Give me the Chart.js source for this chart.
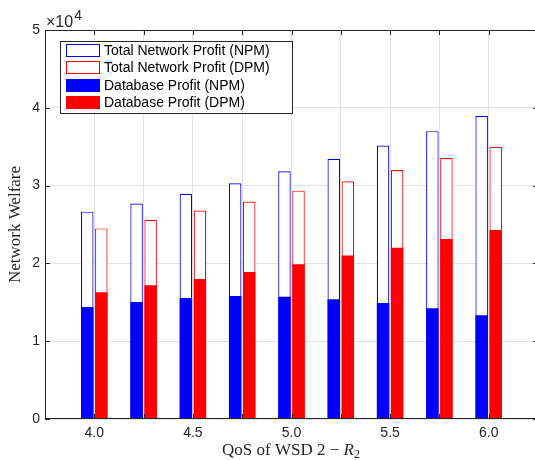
<!DOCTYPE html>
<html>
<head>
<meta charset="utf-8">
<script src="https://cdn.jsdelivr.net/npm/chart.js@4"></script>
<style>
  html, body { margin: 0; padding: 0; background: #fff; overflow: hidden; }
  #wrap { width: 535px; height: 460px; overflow: hidden; }
</style>
</head>
<body>
<div id="wrap"><canvas id="welfareChart" width="545" height="460"></canvas></div>
<script>
// QoS of WSD 2 (R2) values
const qos = [4.0, 4.25, 4.5, 4.75, 5.0, 5.25, 5.5, 5.75, 6.0];

// network welfare values
const totalNPM = [26650, 27700, 28950, 30300, 31850, 33450, 35150, 37000, 38950];
const totalDPM = [24500, 25600, 26800, 27950, 29350, 30550, 32000, 33550, 35000];
const dbNPM = [14400, 15050, 15550, 15800, 15700, 15400, 14900, 14250, 13350];
const dbDPM = [16300, 17200, 18000, 18900, 19900, 21000, 22000, 23150, 24300];

const yTicks = [0, 10000, 20000, 30000, 40000, 50000];

const axisColor = "#262626";
const sans = "'Liberation Sans', Arial, sans-serif";
const serif = "'Liberation Serif', 'Times New Roman', serif";

function points(values) {
  return values.map((v, i) => ({ x: qos[i], y: v }));
}

// frame, inward ticks, legend, titles
const decorations = {
  id: "decorations",
  afterDraw(chart) {
    const ctx = chart.ctx;
    const a = chart.chartArea;
    const xs = chart.scales.x;
    const ys = chart.scales.y;
    ctx.save();

    ctx.strokeStyle = axisColor;
    ctx.lineWidth = 1;
    ctx.strokeRect(a.left + 0.5, a.top + 0.5, a.right - a.left - 1, a.bottom - a.top - 1);

    ctx.beginPath();
    qos.forEach(q => {
      const px = Math.round(xs.getPixelForValue(q)) + 0.5;
      ctx.moveTo(px, a.bottom); ctx.lineTo(px, a.bottom - 5);
      ctx.moveTo(px, a.top); ctx.lineTo(px, a.top + 5);
    });
    yTicks.forEach(t => {
      const py = Math.round(ys.getPixelForValue(t)) + 0.5;
      ctx.moveTo(a.left, py); ctx.lineTo(a.left + 5, py);
      ctx.moveTo(a.right, py); ctx.lineTo(a.right - 5, py);
    });
    ctx.stroke();

    // exponent
    ctx.fillStyle = axisColor;
    ctx.textBaseline = "alphabetic";
    ctx.textAlign = "left";
    ctx.font = "16px " + sans;
    ctx.fillText("\u00d710", 46, 26.5);
    const w = ctx.measureText("\u00d710").width;
    ctx.font = "14px " + sans;
    ctx.fillText("4", 47 + w, 19.5);

    // legend
    const lx = 60, ly = 41, lw = 232, lh = 72;
    ctx.fillStyle = "#fff";
    ctx.fillRect(lx, ly, lw, lh);
    ctx.strokeStyle = axisColor;
    ctx.strokeRect(lx + 0.5, ly + 0.5, lw, lh);
    chart.data.datasets.forEach((ds, i) => {
      const sy = Math.round(44 + i * 17.3);
      if (ds.backgroundColor === "#ffffff") {
        ctx.strokeStyle = ds.borderColor;
        ctx.strokeRect(66.5, sy + 0.5, 33, 12);
      } else {
        ctx.fillStyle = ds.backgroundColor;
        ctx.fillRect(66, sy, 34, 13);
      }
      ctx.fillStyle = "#000";
      ctx.font = "14px " + sans;
      ctx.textBaseline = "middle";
      ctx.fillText(ds.label, 104, sy + 7);
    });

    // y title
    ctx.fillStyle = axisColor;
    ctx.font = "17px " + serif;
    ctx.textAlign = "center";
    ctx.textBaseline = "middle";
    ctx.save();
    ctx.translate(16, (a.top + a.bottom) / 2);
    ctx.rotate(-Math.PI / 2);
    ctx.fillText("Network Welfare", 0, 0);
    ctx.restore();

    // x title with italic R and subscript 2
    const parts = [
      { t: "QoS of WSD 2 \u2212 ", f: "17px " + serif, dy: 0 },
      { t: "R", f: "italic 17px " + serif, dy: 0 },
      { t: "2", f: "12px " + serif, dy: 3 }
    ];
    let total = 0;
    parts.forEach(p => { ctx.font = p.f; p.w = ctx.measureText(p.t).width; total += p.w; });
    let x = 291 - total / 2;
    ctx.textAlign = "left";
    ctx.textBaseline = "alphabetic";
    parts.forEach(p => {
      ctx.font = p.f;
      ctx.fillText(p.t, x, 454.5 + p.dy);
      x += p.w;
    });

    ctx.restore();
  }
};

const ctx = document.getElementById("welfareChart").getContext("2d");

new Chart(ctx, {
  type: "bar",
  data: {
    datasets: [
      {
        label: "Total Network Profit (NPM)",
        data: points(totalNPM),
        stack: "npm",
        order: 1,
        backgroundColor: "#ffffff",
        borderColor: "#0000ff",
        borderWidth: 1.2,
        borderSkipped: false
      },
      {
        label: "Total Network Profit (DPM)",
        data: points(totalDPM),
        stack: "dpm",
        order: 1,
        backgroundColor: "#ffffff",
        borderColor: "#ff0000",
        borderWidth: 1.2,
        borderSkipped: false
      },
      {
        label: "Database Profit (NPM)",
        data: points(dbNPM),
        stack: "npm",
        order: 0,
        backgroundColor: "#0000ff",
        borderWidth: 0
      },
      {
        label: "Database Profit (DPM)",
        data: points(dbDPM),
        stack: "dpm",
        order: 0,
        backgroundColor: "#ff0000",
        borderWidth: 0
      }
    ]
  },
  options: {
    responsive: false,
    animation: false,
    categoryPercentage: 0.57,
    barPercentage: 0.89,
    layout: { padding: { top: 30, right: 7, left: 0, bottom: 0 } },
    plugins: {
      legend: { display: false },
      tooltip: { enabled: false }
    },
    scales: {
      x: {
        type: "linear",
        min: 3.75,
        max: 6.25,
        offset: false,
        grid: { offset: false, color: "#e3e3e3", drawTicks: false },
        border: { display: false },
        afterFit(scale) {
          scale.height = 41;
          scale.paddingLeft = 0;
          scale.paddingRight = 0;
        },
        ticks: {
          stepSize: 0.25,
          autoSkip: false,
          maxRotation: 0,
          padding: 6,
          color: axisColor,
          font: { family: sans, size: 14 },
          callback(value) {
            const half = value * 2;
            if (value < 4 || value > 6 || Math.abs(half - Math.round(half)) > 1e-6) return "";
            return value.toFixed(1);
          }
        }
      },
      y: {
        min: 0,
        max: 50000,
        stacked: false,
        grid: { color: "#e3e3e3", drawTicks: false },
        border: { display: false },
        afterFit(scale) { scale.width = 45; },
        ticks: {
          stepSize: 10000,
          padding: 5,
          color: axisColor,
          font: { family: sans, size: 14 },
          callback(value) { return value / 10000; }
        }
      }
    }
  },
  plugins: [decorations]
});
</script>
</body>
</html>
